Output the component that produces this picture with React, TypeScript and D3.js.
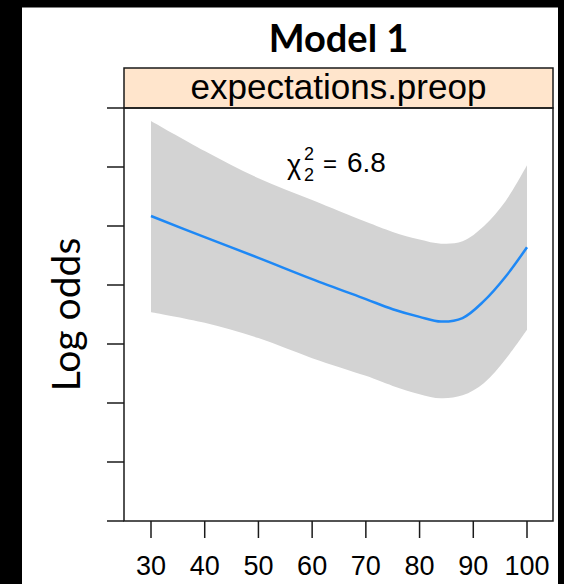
import React from 'react'
import * as d3 from 'd3'

// fitted spline for expectations.preop, with its confidence band (log odds)
const xVals = [30, 40, 50, 60, 70, 75, 80, 84, 88, 92, 96, 100];
const fitVals = [1.17, 0.81, 0.46, 0.10, -0.24, -0.41, -0.54, -0.62, -0.56, -0.27, 0.14, 0.64];
const upperVals = [2.78, 2.27, 1.81, 1.44, 1.07, 0.90, 0.77, 0.70, 0.74, 1.00, 1.42, 2.03];
const lowerVals = [-0.46, -0.64, -0.90, -1.24, -1.54, -1.71, -1.85, -1.92, -1.87, -1.66, -1.26, -0.76];

const xTicks = [30, 40, 50, 60, 70, 80, 90, 100];
const yTicks = [-4, -3, -2, -1, 0, 1, 2, 3];

const title = 'Model 1';
const stripLabel = 'expectations.preop';
const yLabel = 'Log odds';
const chiDf = '2';
const chiValue = '6.8';

const svgWidth = 564;
const svgHeight = 584;
const panelLeft = 124;
const panelRight = 553;
const stripTop = 68;
const panelTop = 108;
const panelBottom = 521;
const tickLen = 17;

const xScale = d3.scaleLinear().domain([30, 100]).range([151, 527]);
const yScale = d3.scaleLinear().domain([-4, 3]).range([panelBottom, panelTop]);

const points = xVals.map((x, i) => ({ x, fit: fitVals[i], lo: lowerVals[i], hi: upperVals[i] }));

const band = d3.area<any>()
  .x(d => xScale(d.x))
  .y0(d => yScale(d.lo))
  .y1(d => yScale(d.hi))
  .curve(d3.curveCatmullRom);

const fitLine = d3.line<any>()
  .x(d => xScale(d.x))
  .y(d => yScale(d.fit))
  .curve(d3.curveCatmullRom);

const sans = '"Liberation Sans", Arial, sans-serif';
const calibriLike = 'Lato, "Open Sans", sans-serif';

const App = () => (
  <svg
    width={svgWidth}
    height={svgHeight}
    style={{ position: 'absolute', left: 0, top: 0, background: '#fff' }}
  >
    {/* black frame around the slide crop */}
    <rect x={0} y={0} width={22} height={svgHeight} fill='#000' />
    <rect x={0} y={0} width={svgWidth} height={7.5} fill='#000' />
    <rect x={558} y={0} width={6} height={svgHeight} fill='#000' />

    <text
      x={(panelLeft + panelRight) / 2}
      y={52}
      textAnchor='middle'
      fontFamily={calibriLike}
      fontWeight={700}
      fontSize={38}
    >
      {title}
    </text>

    <text
      transform={`translate(80, ${(panelTop + panelBottom) / 2}) rotate(-90)`}
      textAnchor='middle'
      fontFamily={calibriLike}
      fontSize={39}
    >
      {yLabel}
    </text>

    {/* strip */}
    <rect
      x={panelLeft}
      y={stripTop}
      width={panelRight - panelLeft}
      height={panelTop - stripTop}
      fill='#ffe5cc'
      stroke='#1a1a1a'
      strokeWidth={1.5}
    />
    <text
      x={(panelLeft + panelRight) / 2}
      y={panelTop - 9}
      textAnchor='middle'
      fontFamily={sans}
      fontSize={35}
    >
      {stripLabel}
    </text>

    <path d={band(points) || ''} fill='#d3d3d3' />
    <path d={fitLine(points) || ''} fill='none' stroke='#1e88f5' strokeWidth={2.5} />

    <g fontFamily={sans}>
      <text x={287} y={174} fontSize={27}>χ</text>
      <text x={304} y={160} fontSize={18}>{chiDf}</text>
      <text x={304} y={181} fontSize={18}>{chiDf}</text>
      <text x={323} y={172} fontSize={24}>=</text>
      <text x={347} y={172} fontSize={28}>{chiValue}</text>
    </g>

    <rect
      x={panelLeft}
      y={panelTop}
      width={panelRight - panelLeft}
      height={panelBottom - panelTop}
      fill='none'
      stroke='#1a1a1a'
      strokeWidth={1.5}
    />

    {yTicks.map(t => (
      <line
        key={t}
        x1={panelLeft - tickLen}
        x2={panelLeft}
        y1={yScale(t)}
        y2={yScale(t)}
        stroke='#1a1a1a'
        strokeWidth={1.5}
      />
    ))}

    {xTicks.map(t => (
      <g key={t}>
        <line
          x1={xScale(t)}
          x2={xScale(t)}
          y1={panelBottom}
          y2={panelBottom + tickLen}
          stroke='#1a1a1a'
          strokeWidth={1.5}
        />
        <text
          x={xScale(t)}
          y={575}
          textAnchor='middle'
          fontFamily={sans}
          fontSize={27}
        >
          {t}
        </text>
      </g>
    ))}
  </svg>
);

export default App
